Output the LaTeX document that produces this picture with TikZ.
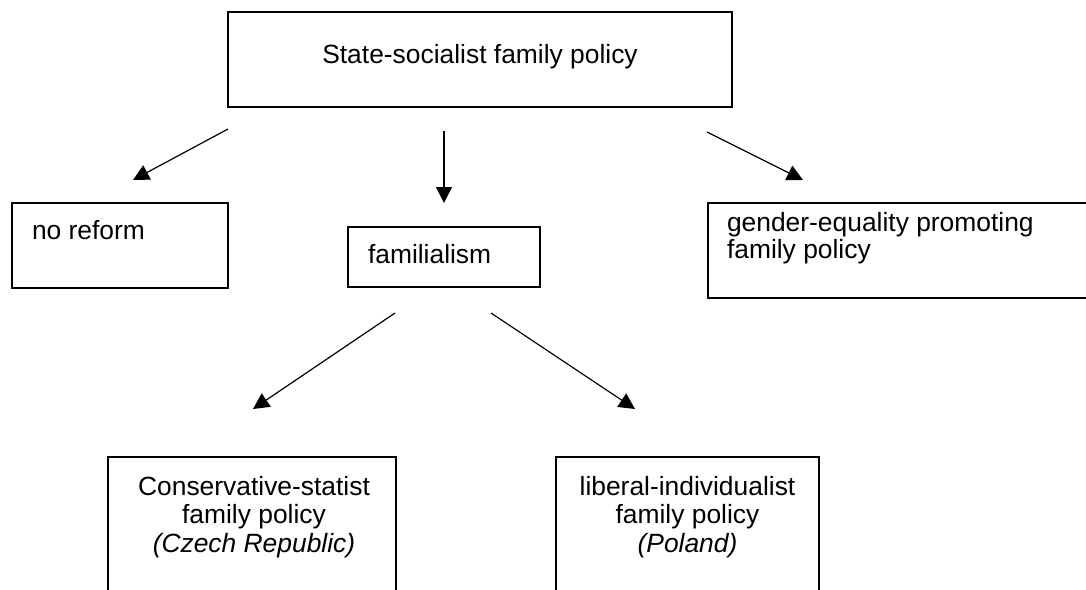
\documentclass[tikz,border=0pt]{standalone}
\usepackage{fontspec}
\setmainfont{Liberation Sans}
\usetikzlibrary{arrows.meta}
\begin{document}
\begin{tikzpicture}[x=1pt,y=-1pt,
  box/.style={draw,line width=1.8pt,inner sep=0pt,outer sep=0pt,anchor=north west},
  lbl/.style={inner sep=0pt,outer sep=0pt,font=\fontsize{26.4}{28}\selectfont},
  conn/.style={line width=1.2pt,-{Triangle[length=16pt,width=16pt]}}]
\fill[white] (0,0) rectangle (1086,589);
\clip (0,0) rectangle (1086,589);
% boxes
\node[box,minimum width=504,minimum height=95] (top) at (228,12) {};
\node[box,minimum width=216,minimum height=85] (noref) at (12,203) {};
\node[box,minimum width=192,minimum height=60] (fam) at (348,227) {};
\node[box,minimum width=400,minimum height=95] (gen) at (708,203) {};
\node[box,minimum width=288,minimum height=160] (con) at (108,457) {};
\node[box,minimum width=263,minimum height=160] (lib) at (556,457) {};
% texts (base anchor of a multi-line node = last line)
\node[lbl,anchor=base] (ttop) at (480,63) {State-socialist family policy};
\node[lbl,anchor=base west] (tno) at (32,239) {no reform};
\node[lbl,anchor=base west,align=left,font=\fontsize{26.4}{27}\selectfont] (tgen) at (727,258) {gender-equality promoting\\family policy};
\node[lbl,anchor=base,align=center,font=\fontsize{26.4}{28.5}\selectfont] (tcon) at (254,552) {Conservative-statist\\family policy\\\textit{(Czech Republic)}};
\node[lbl,anchor=base,align=center,font=\fontsize{26.4}{28.5}\selectfont] (tlib) at (687.5,552) {liberal-individualist\\family policy\\\textit{(Poland)}};
\node[lbl,anchor=base west] (tfam) at (368,263) {familialism};
% connector ends
\coordinate (a1s) at (228,129); \coordinate (a1e) at (133,180);
\coordinate (a2s) at (444,131); \coordinate (a2e) at (444,203);
\coordinate (a3s) at (707,132); \coordinate (a3e) at (803,180);
\coordinate (a4s) at (395,313); \coordinate (a4e) at (253,409);
\coordinate (a5s) at (491,313); \coordinate (a5e) at (635,409);
\draw[conn] (a1s) -- (a1e);
\draw[conn] (a2s) -- (a2e);
\draw[conn] (a3s) -- (a3e);
\draw[conn] (a4s) -- (a4e);
\draw[conn] (a5s) -- (a5e);
\end{tikzpicture}
\end{document}
